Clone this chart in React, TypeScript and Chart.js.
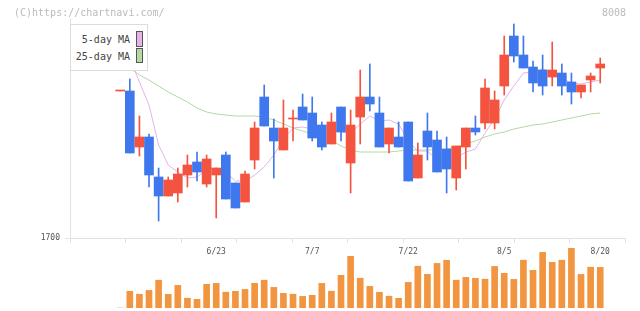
import React, { useEffect, useRef } from 'react';
import { Chart, registerables } from 'chart.js';

Chart.register(...registerables);

// ---- data ----
const dates = [
  '6/9', '6/10', '6/11', '6/12', '6/13', '6/16', '6/17', '6/18', '6/19', '6/20',
  '6/23', '6/24', '6/25', '6/26', '6/27', '6/30', '7/1', '7/2', '7/3', '7/4',
  '7/7', '7/8', '7/9', '7/10', '7/11', '7/14', '7/15', '7/16', '7/17', '7/18',
  '7/22', '7/23', '7/24', '7/25', '7/28', '7/29', '7/30', '7/31', '8/1', '8/4',
  '8/5', '8/6', '8/7', '8/8', '8/12', '8/13', '8/14', '8/15', '8/18', '8/19', '8/20',
];
const labelDates = ['6/23', '7/7', '7/22', '8/5', '8/20'];
const priceTicks = [1700];

const opens = [
  1847, 1847, 1791, 1801, 1761, 1742, 1745, 1763, 1776, 1754,
  1763, 1783, 1755, 1736, 1778, 1841, 1810, 1788, 1819, 1831,
  1825, 1813, 1794, 1831, 1775, 1821, 1841, 1825, 1794, 1801,
  1816, 1760, 1807, 1798, 1789, 1760, 1791, 1810, 1815, 1815,
  1852, 1902, 1883, 1871, 1868, 1861, 1865, 1856, 1846, 1858, 1870,
];
const highs = [
  1847, 1859, 1822, 1804, 1770, 1761, 1770, 1783, 1786, 1783,
  1770, 1786, 1755, 1767, 1816, 1853, 1819, 1838, 1828, 1844,
  1841, 1816, 1825, 1831, 1828, 1868, 1874, 1841, 1810, 1816,
  1816, 1795, 1825, 1807, 1801, 1792, 1810, 1822, 1859, 1847,
  1902, 1914, 1902, 1877, 1883, 1896, 1874, 1865, 1853, 1865, 1880,
];
const lows = [
  1847, 1785, 1782, 1751, 1717, 1742, 1736, 1751, 1757, 1751,
  1720, 1739, 1730, 1736, 1769, 1812, 1760, 1788, 1797, 1818,
  1797, 1788, 1794, 1797, 1745, 1794, 1827, 1791, 1785, 1791,
  1757, 1760, 1778, 1766, 1745, 1748, 1769, 1803, 1809, 1809,
  1843, 1876, 1870, 1846, 1843, 1852, 1843, 1834, 1840, 1846, 1855,
];
const closes = [
  1847, 1785, 1801, 1763, 1742, 1758, 1764, 1773, 1766, 1779,
  1770, 1739, 1730, 1764, 1810, 1812, 1797, 1810, 1819, 1818,
  1800, 1791, 1816, 1806, 1813, 1841, 1834, 1791, 1810, 1791,
  1757, 1783, 1791, 1766, 1769, 1792, 1810, 1806, 1850, 1838,
  1883, 1882, 1870, 1855, 1852, 1868, 1852, 1846, 1853, 1862, 1874,
];
const ma5 = [
  1893, 1880, 1856, 1833, 1793, 1773, 1766, 1760, 1761, 1768,
  1770, 1766, 1757, 1757, 1763, 1771, 1783, 1799, 1810, 1811,
  1809, 1808, 1809, 1806, 1805, 1814, 1822, 1817, 1818, 1814,
  1797, 1787, 1787, 1778, 1773, 1780, 1786, 1789, 1805, 1819,
  1838, 1852, 1865, 1866, 1869, 1866, 1860, 1855, 1854, 1856, 1858,
];
const ma25 = [
  1876, 1870, 1863, 1858, 1852, 1846, 1841, 1836, 1830, 1826,
  1824, 1823, 1822, 1822, 1822, 1821, 1818, 1814, 1810, 1807,
  1804, 1801, 1798, 1792, 1788, 1786, 1786, 1786, 1786, 1787,
  1788, 1788, 1788, 1788, 1789, 1791, 1794, 1797, 1801, 1804,
  1806, 1809, 1811, 1813, 1814, 1816, 1818, 1820, 1822, 1824, 1825,
];
const volumes = [
  0, 16700, 13800, 17600, 27800, 13700, 22600, 9800, 8700, 23700,
  24600, 15800, 16700, 18600, 24700, 27800, 20600, 14700, 13800, 11600,
  12700, 24600, 16800, 32700, 51700, 29800, 21600, 15700, 11800, 9700,
  25600, 41800, 33700, 44600, 47700, 27800, 30600, 29700, 28800, 41600,
  34700, 28600, 47800, 37700, 55600, 45700, 47800, 59700, 33600, 40800, 40600,
];

// ---- styles ----
const RED = '#f4533f';
const BLUE = '#3f78ee';
const ORANGE = '#f29540';
const PINK = 'rgb(230,178,232)';
const GREEN = 'rgb(178,218,162)';
const GRID = '#e2e2e2';
const MONO = '"DejaVu Sans Mono", "Liberation Mono", monospace';
const X_MIN = -5.23;
const X_MAX = 52.58;

export default function App() {
  const priceRef = useRef<HTMLCanvasElement | null>(null);
  const volRef = useRef<HTMLCanvasElement | null>(null);

  useEffect(() => {
    document.body.style.margin = '0';
    const colors = dates.map((_, i) => (closes[i] >= opens[i] ? RED : BLUE));

    const price = new Chart(priceRef.current as HTMLCanvasElement, {
      type: 'bar',
      data: {
        datasets: [
          {
            type: 'bar',
            data: dates.map((_, i) => ({ x: i, y: [opens[i], closes[i]] })) as any,
            backgroundColor: colors,
            borderWidth: 0,
            barThickness: 9,
            minBarLength: 1,
            grouped: false,
          } as any,
          {
            type: 'bar',
            data: dates.map((_, i) => ({ x: i, y: [lows[i], highs[i]] })) as any,
            backgroundColor: colors,
            borderWidth: 0,
            barThickness: 1,
            grouped: false,
          } as any,
          {
            type: 'line',
            data: dates.map((_, i) => ({ x: i, y: ma5[i] })),
            borderColor: PINK,
            borderWidth: 1,
            pointRadius: 0,
            tension: 0,
            fill: false,
          } as any,
          {
            type: 'line',
            data: dates.map((_, i) => ({ x: i, y: ma25[i] })),
            borderColor: GREEN,
            borderWidth: 1,
            pointRadius: 0,
            tension: 0,
            fill: false,
          } as any,
        ],
      },
      options: {
        animation: false,
        responsive: false,
        layout: { padding: { top: 18, right: 15, left: 0, bottom: 0 } },
        plugins: { legend: { display: false }, tooltip: { enabled: false } },
        scales: {
          x: {
            type: 'linear',
            min: X_MIN,
            max: X_MAX,
            offset: false,
            position: 'bottom',
            grid: { display: true, offset: false, drawOnChartArea: false, drawTicks: true, tickLength: 5, color: GRID },
            border: { display: true, color: GRID },
            ticks: { display: false },
            afterBuildTicks: (s: any) => {
              s.ticks = Array.from({ length: 11 }, (_, k) => ({ value: X_MIN + ((X_MAX - X_MIN) * k) / 10 }));
            },
            afterFit: (s: any) => {
              s.height = 5;
            },
          },
          x2: {
            type: 'linear',
            min: X_MIN,
            max: X_MAX,
            offset: false,
            position: 'bottom',
            grid: { display: false, offset: false, drawTicks: false },
            border: { display: false },
            ticks: {
              autoSkip: false,
              maxRotation: 0,
              padding: 4,
              color: '#555',
              font: { family: MONO, size: 8 },
              callback: (v: any) => dates[v as number] ?? '',
            },
            afterBuildTicks: (s: any) => {
              s.ticks = labelDates.map((d) => ({ value: dates.indexOf(d) }));
            },
            afterFit: (s: any) => {
              s.height = 68;
            },
          },
          y: {
            type: 'linear',
            min: 1700,
            max: 1920,
            position: 'left',
            grid: { display: true, drawOnChartArea: false, tickLength: 5, color: GRID },
            border: { display: true, color: GRID },
            ticks: {
              padding: 5,
              color: '#555',
              font: { family: MONO, size: 8 },
              callback: (v: any) => String(v),
            },
            afterBuildTicks: (s: any) => {
              s.ticks = priceTicks.map((v) => ({ value: v }));
            },
            afterFit: (s: any) => {
              s.width = 70;
            },
          },
        } as any,
      },
    });

    const vol = new Chart(volRef.current as HTMLCanvasElement, {
      type: 'bar',
      data: {
        datasets: [
          {
            data: volumes.map((v, i) => ({ x: i, y: v })) as any,
            backgroundColor: ORANGE,
            borderWidth: 0,
            barThickness: 6,
          },
        ],
      },
      options: {
        animation: false,
        responsive: false,
        layout: { padding: { top: 248, right: 15, left: 70, bottom: 3 } },
        plugins: { legend: { display: false }, tooltip: { enabled: false } },
        scales: {
          x: { type: 'linear', min: X_MIN, max: X_MAX, offset: false, display: false },
          y: { min: 0, max: 60000, display: false },
        } as any,
      },
    });

    return () => {
      price.destroy();
      vol.destroy();
    };
  }, []);

  const textBase: React.CSSProperties = {
    position: 'absolute',
    fontFamily: MONO,
    fontSize: 10,
    lineHeight: '12px',
    whiteSpace: 'nowrap',
  };

  return (
    <div style={{ position: 'absolute', left: 0, top: 0, width: 640, height: 311, background: '#fff', overflow: 'hidden' }}>
      <canvas ref={priceRef} width={640} height={311} style={{ position: 'absolute', left: 0, top: 0 }} />
      <canvas ref={volRef} width={640} height={311} style={{ position: 'absolute', left: 0, top: 0, pointerEvents: 'none' }} />
      <div style={{ ...textBase, left: 14, top: 7, color: '#bbb' }}>(C)https://chartnavi.com/</div>
      <div style={{ ...textBase, right: 14, top: 7, color: '#bbb' }}>8008</div>
      <div
        style={{
          position: 'absolute',
          left: 70,
          top: 24,
          width: 78,
          height: 47,
          boxSizing: 'border-box',
          background: '#fff',
          border: '1px solid #dcdcdc',
        }}
      >
        <div style={{ ...textBase, right: 17, top: 9, color: '#444' }}>5-day MA</div>
        <div style={{ ...textBase, right: 17, top: 25.5, color: '#444' }}>25-day MA</div>
        <div style={{ position: 'absolute', left: 65, top: 6, width: 7, height: 16, boxSizing: 'border-box', border: '1px solid #555', background: PINK }} />
        <div style={{ position: 'absolute', left: 65, top: 23, width: 7, height: 15, boxSizing: 'border-box', border: '1px solid #555', background: GREEN }} />
      </div>
    </div>
  );
}
